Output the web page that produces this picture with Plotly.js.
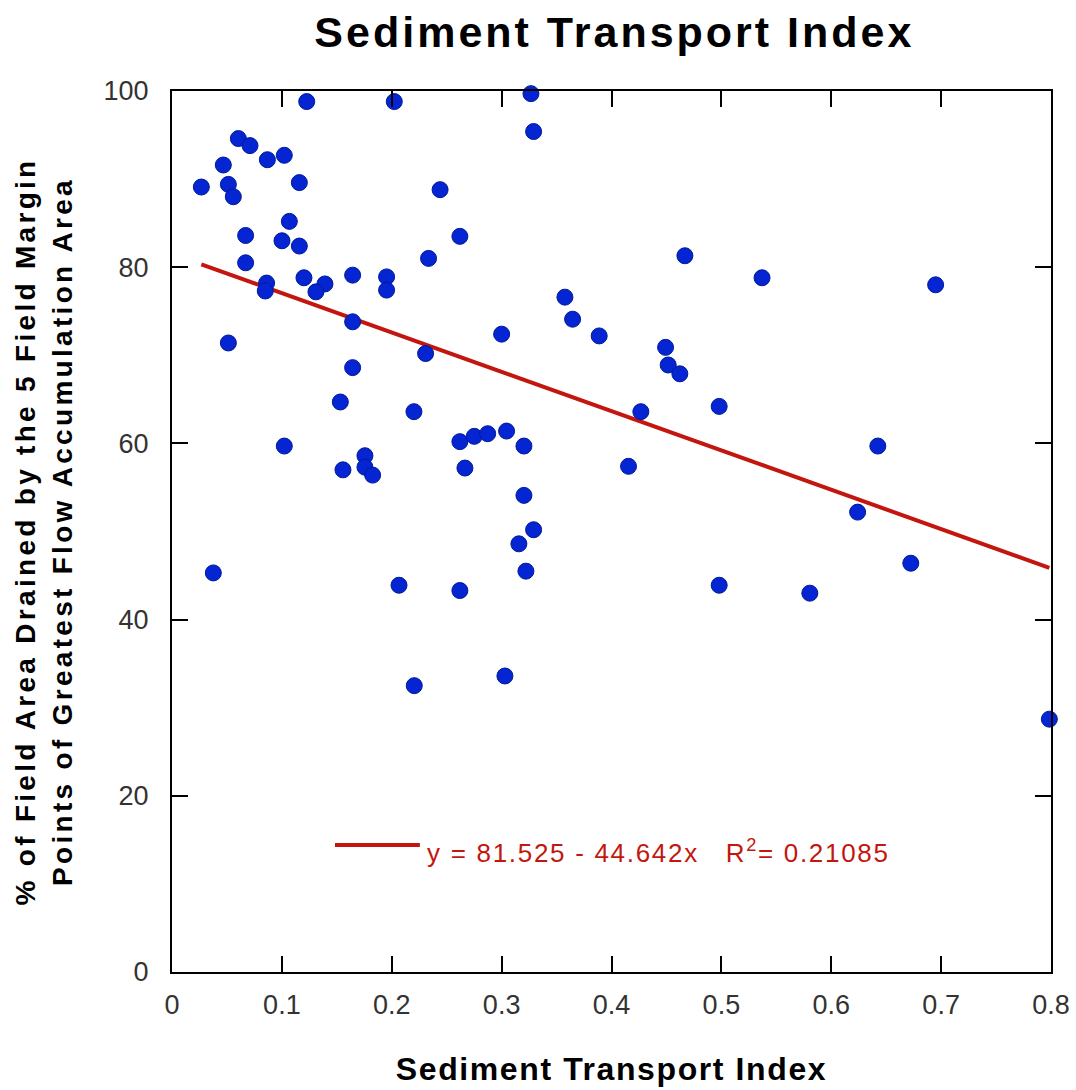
<!DOCTYPE html>
<html>
<head>
<meta charset="utf-8">
<script src="https://cdn.plot.ly/plotly-3.0.1.min.js"></script>
<style>
html,body{margin:0;padding:0;background:#fff;}
#chart{width:1076px;height:1090px;}
#chart .gtitle{letter-spacing:3px;}
#chart .xtitle{letter-spacing:1.6px;}
#chart .ytitle{letter-spacing:3.3px;}
#chart .annotation-text{letter-spacing:1.7px;}
</style>
</head>
<body>
<div id="chart"></div>
<script>
const sedimentIndex = [
  0.1226, 0.2023, 0.0604, 0.0710, 0.0868, 0.1022, 0.0467, 0.0267, 0.0513, 0.0558,
  0.1159, 0.2440, 0.1068, 0.0670, 0.1001, 0.1159, 0.2620, 0.2335, 0.0670, 0.1201,
  0.0861, 0.0849, 0.1392, 0.1310, 0.1644, 0.1953, 0.1953, 0.1644, 0.0513, 0.2308,
  0.1644, 0.3267, 0.3291, 0.4668, 0.5370, 0.3576, 0.3646, 0.3000, 0.3888, 0.4492,
  0.4516, 0.4622, 0.1532, 0.2202, 0.2620, 0.1022, 0.1756, 0.1756, 0.1826, 0.1556,
  0.2666, 0.0376, 0.2066, 0.2620, 0.4267, 0.4980, 0.2751, 0.2873, 0.3045, 0.3203,
  0.4155, 0.3203, 0.3291, 0.3157, 0.3221, 0.4980, 0.3030, 0.2205, 0.5805, 0.6240,
  0.6424, 0.6724, 0.6950, 0.7985
];
const pctAreaDrained = [
  98.8, 98.8, 94.6, 93.8, 92.2, 92.7, 91.6, 89.1, 89.4, 88.0,
  89.6, 88.8, 85.2, 83.6, 83.0, 82.4, 83.5, 81.0, 80.5, 78.8,
  78.2, 77.3, 78.1, 77.2, 79.1, 78.9, 77.4, 73.8, 71.4, 70.2,
  68.6, 99.7, 95.4, 81.3, 78.8, 76.6, 74.1, 72.4, 72.2, 70.9,
  68.9, 67.9, 64.7, 63.6, 60.2, 59.7, 58.6, 57.3, 56.4, 57.0,
  57.2, 45.3, 43.9, 43.3, 63.6, 64.2, 60.8, 61.1, 61.4, 59.7,
  57.4, 54.1, 50.2, 48.6, 45.5, 43.9, 33.6, 32.5, 43.0, 52.2,
  59.7, 46.4, 78.0, 28.7
];
const fitIntercept = 81.525;
const fitSlope = -44.642;
const fitLabel = 'y = 81.525 - 44.642x   R<sup>2</sup>= 0.21085';
const xTickVals = [0, 0.1, 0.2, 0.3, 0.4, 0.5, 0.6, 0.7, 0.8];
const xTickText = ['0', '0.1', '0.2', '0.3', '0.4', '0.5', '0.6', '0.7', '0.8'];
const yTickVals = [0, 20, 40, 60, 80, 100];

const xMin = Math.min(...sedimentIndex), xMax = Math.max(...sedimentIndex);
const fitX = [xMin, xMax];
const fitY = fitX.map(v => fitIntercept + fitSlope * v);

const font = 'Arial, "Liberation Sans", sans-serif';
const axisCommon = {
  showline: true, linecolor: '#000', linewidth: 2, mirror: 'ticks',
  ticks: 'inside', ticklen: 16, tickwidth: 2, tickcolor: '#000',
  showgrid: false, zeroline: false,
  tickfont: {family: font, size: 27, color: '#333'}
};

const traces = [
  {
    x: fitX, y: fitY, type: 'scatter', mode: 'lines',
    line: {color: '#c3160e', width: 4}, hoverinfo: 'skip', showlegend: false
  },
  {
    x: sedimentIndex, y: pctAreaDrained, type: 'scatter', mode: 'markers',
    marker: {color: '#0524d2', size: 16, line: {color: '#001a9a', width: 1}},
    cliponaxis: false, showlegend: false
  }
];

const layout = {
  width: 1076, height: 1090,
  paper_bgcolor: '#fff', plot_bgcolor: '#fff',
  margin: {l: 172, r: 25, t: 91, b: 118},
  title: {text: '<b>Sediment Transport Index</b>', x: 0.571, xanchor: 'center', y: 0.971, yanchor: 'middle',
          font: {family: font, size: 43, color: '#000'}},
  xaxis: Object.assign({}, axisCommon, {
    range: [0, 0.8], tickvals: xTickVals, ticktext: xTickText, ticklabelstandoff: 8,
    title: {text: '<b>Sediment Transport Index</b>', font: {family: font, size: 32, color: '#000'}, standoff: 38}
  }),
  yaxis: Object.assign({}, axisCommon, {
    range: [0, 100], tickvals: yTickVals, ticklabelstandoff: 16,
    title: {text: '<b>% of Field Area Drained by the 5 Field Margin<br>Points of Greatest Flow Accumulation Area</b>',
            font: {family: font, size: 28, color: '#000'}, standoff: 23}
  }),
  shapes: [
    {type: 'line', xref: 'paper', yref: 'paper', x0: 0.1854, x1: 0.282, y0: 0.1442, y1: 0.1442,
     line: {color: '#c3160e', width: 4}}
  ],
  annotations: [
    {xref: 'paper', yref: 'paper', x: 0.5535, y: 0.1373, xanchor: 'center', yanchor: 'middle',
     text: fitLabel, showarrow: false, font: {family: font, size: 26, color: '#c3160e'}}
  ]
};

Plotly.newPlot('chart', traces, layout, {displayModeBar: false, staticPlot: true});
</script>
</body>
</html>
